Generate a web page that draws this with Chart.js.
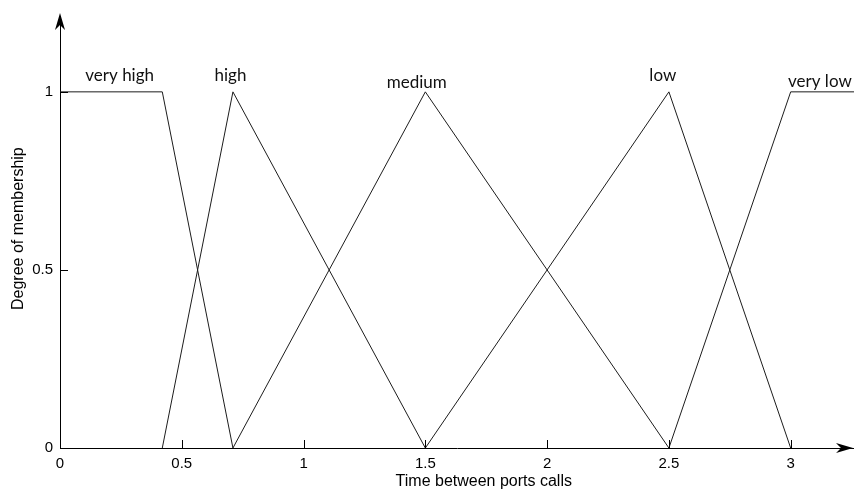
<!DOCTYPE html>
<html>
<head>
<meta charset="utf-8">
<script src="https://cdn.jsdelivr.net/npm/chart.js@4/dist/chart.umd.min.js"></script>
<style>
  html, body { margin: 0; padding: 0; background: #fff; }
  #wrap { width: 854px; height: 494px; }
</style>
</head>
<body>
<div id="wrap"><canvas id="chart-canvas" width="854" height="494"></canvas></div>
<script>
////////////////////////////////////////////
//   membership functions (x, degree)     //
////////////////////////////////////////////

var setNames = ["very high", "high", "medium", "low", "very low"];
var veryHighX = [0, 0.42, 0.71];
var veryHighY = [1, 1, 0];
var highX = [0.42, 0.71, 1.5];
var highY = [0, 1, 0];
var mediumX = [0.71, 1.5, 2.5];
var mediumY = [0, 1, 0];
var lowX = [1.5, 2.5, 3];
var lowY = [0, 1, 0];
var veryLowX = [2.5, 3, 3.26];
var veryLowY = [0, 1, 1];

var xTicks = [0, 0.5, 1, 1.5, 2, 2.5, 3];
var yTicks = [0, 0.5, 1];

// where each set name is written, in axis units
var nameSpots = [
    { x: 0.245, y: 1.045 },
    { x: 0.70, y: 1.045 },
    { x: 1.465, y: 1.025 },
    { x: 2.475, y: 1.045 },
    { x: 3.12, y: 1.03 }
];

function toPoints(xs, ys) {
    return xs.map(function (x, i) { return { x: x, y: ys[i] }; });
}

var series = [
    toPoints(veryHighX, veryHighY),
    toPoints(highX, highY),
    toPoints(mediumX, mediumY),
    toPoints(lowX, lowY),
    toPoints(veryLowX, veryLowY)
];

var lineColor = "#1c1c1c";

// plain tick text: 0, 0.5, 1 ...
function plainTick(value) {
    return String(value);
}

// inward tick marks, arrow heads, axis titles and set names
var decorations = {
    id: "decorations",
    afterDraw: function (chart) {
        var ctx = chart.ctx;
        var xs = chart.scales.x, ys = chart.scales.y;
        var area = chart.chartArea;
        var x0 = xs.getPixelForValue(0);
        var y0 = ys.getPixelForValue(0);

        ctx.save();
        ctx.strokeStyle = "#000";
        ctx.lineWidth = 1;
        ctx.beginPath();
        xTicks.forEach(function (v) {
            if (v === 0) return;
            var px = Math.round(xs.getPixelForValue(v)) + 0.5;
            ctx.moveTo(px, y0);
            ctx.lineTo(px, y0 - 8);
        });
        yTicks.forEach(function (v) {
            if (v === 0) return;
            var py = Math.round(ys.getPixelForValue(v)) + 0.5;
            ctx.moveTo(x0, py);
            ctx.lineTo(x0 + 8, py);
        });
        ctx.stroke();

        // arrow heads
        ctx.fillStyle = "#000";
        ctx.beginPath();
        ctx.moveTo(x0, area.top - 3);
        ctx.lineTo(x0 - 5, area.top + 14);
        ctx.lineTo(x0, area.top + 9);
        ctx.lineTo(x0 + 5, area.top + 14);
        ctx.closePath();
        ctx.fill();

        var xe = area.right - 1;
        ctx.beginPath();
        ctx.moveTo(xe, y0);
        ctx.lineTo(xe - 17, y0 - 5);
        ctx.lineTo(xe - 12, y0);
        ctx.lineTo(xe - 17, y0 + 5);
        ctx.closePath();
        ctx.fill();

        // axis titles
        ctx.font = "16px 'Liberation Sans', Arial, sans-serif";
        ctx.textAlign = "center";
        ctx.textBaseline = "middle";
        ctx.fillText("Time between ports calls", xs.getPixelForValue(1.74), 482);
        ctx.save();
        ctx.translate(19, ys.getPixelForValue(0.616));
        ctx.rotate(-Math.PI / 2);
        ctx.fillText("Degree of membership", 0, 0);
        ctx.restore();

        // set names
        ctx.font = "17px Lato, 'Open Sans', sans-serif";
        ctx.fillStyle = "#111";
        setNames.forEach(function (name, i) {
            var s = nameSpots[i];
            ctx.fillText(name, xs.getPixelForValue(s.x), ys.getPixelForValue(s.y));
        });
        ctx.restore();
    }
};

var ctx = document.getElementById("chart-canvas").getContext("2d");
var myChart = new Chart(ctx, {
    type: "line",
    data: {
        datasets: series.map(function (pts, i) {
            return {
                label: setNames[i],
                data: pts,
                borderColor: lineColor,
                borderWidth: 1,
                pointRadius: 0,
                tension: 0,
                fill: false,
                clip: false
            };
        })
    },
    options: {
        responsive: false,
        animation: false,
        layout: { padding: { top: 15, right: 0, left: 0, bottom: 0 } },
        plugins: {
            legend: { display: false },
            tooltip: { enabled: false }
        },
        scales: {
            x: {
                type: "linear",
                min: 0,
                max: 3.26,
                afterBuildTicks: function (scale) {
                    scale.ticks = xTicks.map(function (v) { return { value: v }; });
                },
                afterFit: function (scale) { scale.height = 46; },
                grid: { drawOnChartArea: false, drawTicks: false },
                border: { display: true, color: "#000", width: 1 },
                ticks: {
                    color: "#000",
                    padding: 7,
                    maxRotation: 0,
                    callback: plainTick,
                    font: { family: "'Liberation Sans', Arial, sans-serif", size: 15 }
                }
            },
            y: {
                type: "linear",
                min: 0,
                max: 1.213,
                afterBuildTicks: function (scale) {
                    scale.ticks = yTicks.map(function (v) { return { value: v }; });
                },
                afterFit: function (scale) { scale.width = 60; },
                grid: { drawOnChartArea: false, drawTicks: false },
                border: { display: true, color: "#000", width: 1 },
                ticks: {
                    color: "#000",
                    padding: 7,
                    callback: plainTick,
                    font: { family: "'Liberation Sans', Arial, sans-serif", size: 15 }
                }
            }
        }
    },
    plugins: [decorations]
});
</script>
</body>
</html>
